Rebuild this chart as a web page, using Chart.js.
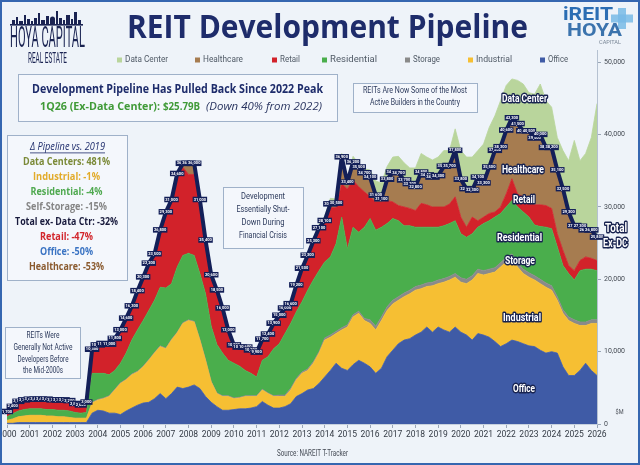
<!DOCTYPE html>
<html><head><meta charset="utf-8">
<script src="https://cdn.jsdelivr.net/npm/chart.js@4.4.1/dist/chart.umd.min.js"></script>
<style>html,body{margin:0;padding:0;background:#eef3f9;}canvas{display:block;}</style>
</head><body>
<canvas id="c" width="640" height="465"></canvas>
<script>
// ---------- DATA ($ billions, quarterly 2000 Q1 .. 2026 Q1) ----------
const quarterLabels = [];
for (let y = 2000; y <= 2026; y++) for (let q = 1; q <= 4; q++) { if (y === 2026 && q > 1) break; quarterLabels.push(y + ' Q' + q); }
const yearTicks = [2000,2001,2002,2003,2004,2005,2006,2007,2008,2009,2010,2011,2012,2013,2014,2015,2016,2017,2018,2019,2020,2021,2022,2023,2024,2025,2026];
const valueTicks = [0,10,20,30,40,50];

const office = [
 0.1,0.1,0.2,0.2, 0.2,0.2,0.2,0.2, 0.2,0.2,0.2,0.2, 0.2,0.2,0.2,1.5,
 1.9,1.8,1.5,1.5, 1.3,1.8,2.2,2.6, 2.9,3.0,3.5,4.2, 3.5,4.2,5.1,4.9,
 5.1,5.4,4.9,3.8, 3.0,2.4,1.9,1.9, 2.0,2.1,2.1,2.2, 2.4,3.1,2.6,2.2,
 2.2,2.4,2.8,3.8, 4.2,4.7,4.9,5.6, 6.5,7.4,8.4,7.7, 7.4,8.2,8.8,8.4,
 7.9,7.0,7.7,9.3, 10.2,11.1,11.6,11.8, 12.3,12.7,13.4,12.7, 13.4,13.0,12.7,13.4,
 12.7,12.3,11.6,12.5, 12.3,12.0,11.4,10.7, 11.1,11.6,11.4,11.1, 10.8,10.7,10.2,9.8,
 10.0,9.8,7.9,6.7, 6.7,7.4,8.4,7.4, 6.7];
const industrial = [
 0.4,0.6,0.8,0.9, 1.0,1.0,1.0,0.9, 0.9,0.8,0.8,0.7, 0.6,0.6,0.6,1.4,
 1.4,1.7,2.3,3.2, 4.3,4.3,4.6,4.6, 5.0,5.8,6.3,6.5, 6.9,7.4,7.5,9.0,
 9.2,8.7,6.7,5.0, 2.8,1.8,1.9,1.9, 1.5,1.5,1.7,1.6, 1.4,1.6,1.6,1.6,
 1.6,1.4,1.9,2.3, 2.8,2.7,3.5,4.2, 5.1,4.6,4.1,5.3, 6.0,6.6,6.5,5.9,
 6.0,6.0,6.6,6.4, 6.4,6.0,6.0,6.2, 6.2,6.0,5.6,6.4, 6.0,6.6,7.2,6.9,
 6.9,7.1,8.3,8.3, 8.3,8.8,9.6,11.0, 11.3,11.0,10.3,9.7, 9.5,9.2,9.2,9.1,
 8.5,7.3,7.4,7.6, 7.2,6.2,5.2,6.5, 7.2];
const storage = [
 0,0,0,0, 0,0,0,0, 0,0,0,0, 0,0,0,0.1,
 0.1,0.1,0.1,0.1, 0.1,0.1,0.1,0.1, 0.1,0.1,0.1,0.1, 0.1,0.1,0.1,0.1,
 0.1,0.1,0.1,0.1, 0.1,0.1,0.1,0.1, 0.1,0.1,0.1,0.1, 0.1,0.1,0.1,0.1,
 0.2,0.2,0.2,0.2, 0.2,0.2,0.2,0.2, 0.3,0.3,0.3,0.3, 0.3,0.3,0.3,0.3,
 0.5,0.5,0.5,0.5, 0.5,0.5,0.5,0.5, 0.5,0.5,0.5,0.5, 0.5,0.5,0.5,0.5,
 0.6,0.6,0.6,0.6, 0.6,0.6,0.6,0.6, 0.6,0.9,0.6,0.6, 0.6,0.6,0.6,0.6,
 0.6,0.5,0.5,0.5, 0.5,0.5,0.5,0.5, 0.5];
const residential = [
 0.5,0.7,0.8,0.9, 0.9,0.9,0.9,0.9, 0.9,0.9,0.9,0.9, 0.8,0.7,0.8,4.0,
 3.6,3.4,2.9,2.6, 2.7,3.6,4.7,5.7, 6.3,6.8,7.2,8.1, 8.3,7.7,9.0,9.3,
 9.2,9.1,9.1,9.1, 7.6,6.7,5.9,4.9, 4.8,4.3,3.5,3.1, 2.6,4.0,5.0,6.5,
 7.1,8.5,9.0,9.2, 9.7,10.9,11.3,11.2, 10.5,10.8,12.1,15.3, 10.5,12.1,10.9,12.6,
 14.0,13.3,12.4,11.5, 11.3,10.5,9.3,8.9, 8.2,8.0,7.7,7.6, 7.3,7.3,7.3,7.3,
 6.1,5.8,5.8,5.8, 6.5,6.7,7.0,6.8, 7.0,7.4,7.7,7.9, 7.7,7.0,7.3,7.7,
 7.9,6.9,6.1,6.0, 5.5,7.1,7.3,7.0, 6.8];
const retail = [
 0.6,0.8,1.1,1.1, 1.1,1.1,1.1,1.2, 1.1,1.2,1.2,1.2, 1.0,0.9,1.2,3.1,
 3.7,3.9,4.0,4.2, 4.4,4.6,4.5,5.2, 5.8,6.3,6.2,7.7, 10.3,11.4,12.7,12.2,
 10.9,11.2,9.8,7.2, 6.9,7.3,6.0,4.0, 2.3,2.4,3.0,3.0, 3.2,2.7,2.9,3.3,
 3.7,3.3,2.5,3.5, 4.4,4.6,5.2,5.7, 5.3,6.8,5.0,4.6, 8.3,6.5,6.3,4.9,
 3.0,3.9,3.5,3.2, 2.3,2.1,2.6,2.4, 2.3,3.3,3.1,2.8, 2.8,2.6,2.7,3.3,
 2.3,1.4,2.3,0.9, 0.9,1.0,0.7,0.9, 1.8,3.0,1.8,2.1, 2.3,2.8,3.0,3.0,
 2.8,1.8,2.1,1.1, 1.3,1.4,1.7,1.5, 1.4];
const healthcare = [
 0.1,0.2,0.2,0.2, 0.2,0.2,0.2,0.2, 0.2,0.2,0.2,0.2, 0.2,0.2,0.2,0.2,
 0.2,0.2,0.2,0.2, 0.2,0.2,0.2,0.2, 0.2,0.2,0.2,0.2, 0.2,0.2,0.2,0.5,
 1.5,1.5,0.4,0.2, 0.2,0.2,0.2,0.2, 0.2,0.2,0.2,0.2, 0.2,0.2,0.2,0.2,
 0.2,0.2,0.2,0.2, 0.2,0.2,0.2,0.2, 0.4,0.5,0.6,3.7, 0.9,2.5,2.7,2.6,
 2.7,0.9,0.4,2.9, 4.1,4.5,3.7,3.4, 3.3,4.3,4.1,4.1, 4.3,5.6,5.3,6.4,
 5.2,5.3,3.7,6.0, 4.7,6.4,8.5,8.3, 8.8,8.4,9.7,9.1, 9.6,9.2,9.7,8.0,
 8.4,8.8,8.5,7.4, 6.2,4.7,3.7,3.9, 3.2];
const dataCenter = [
 0,0,0,0, 0,0,0,0, 0,0,0,0, 0,0,0,0,
 0,0,0,0, 0,0,0,0, 0,0,0,0, 0,0,0,0,
 0.3,0.3,0,0, 0,0,0,0, 0,0,0,0, 0,0,0,0,
 0,0,0,0, 0.1,0.2,0.4,0.5, 0.6,0.8,0.6,0.5, 0.6,0.8,0.5,0.6,
 1.0,2.0,2.2,1.8, 2.1,2.3,2.4,2.2, 2.6,2.6,2.5,2.4, 2.6,2.2,2.1,3.0,
 4.0,4.4,4.6,3.7, 5.4,5.5,4.8,6.4, 6.2,5.4,6.0,6.5, 5.3,6.1,7.0,6.5,
 5.6,4.5,5.3,7.1, 11.8,9.1,10.6,12.8, 18.5];
const totalExDC = [
 1.7,2.4,3.1,3.3, 3.4,3.4,3.4,3.4, 3.3,3.3,3.3,3.2, 2.8,2.6,3.0,10.3,
 10.9,11.1,11.0,11.8, 13.0,14.6,16.3,18.4, 20.3,22.2,23.5,26.8, 29.3,31.0,34.6,36.0,
 36.0,36.0,31.0,25.4, 20.6,18.5,16.0,13.0, 10.9,10.6,10.6,10.2, 9.9,11.7,12.4,13.9,
 15.0,16.0,16.6,19.2, 21.5,23.3,25.3,27.1, 28.1,30.4,30.5,36.9, 33.4,36.2,35.5,34.7,
 34.1,31.6,31.1,33.8, 34.8,34.7,33.7,33.2, 32.8,34.8,34.4,34.1, 34.3,35.6,35.7,37.8,
 33.8,32.5,32.3,34.1, 33.3,35.5,37.8,38.3, 40.6,42.3,41.5,40.5, 40.5,39.5,40.0,38.2,
 38.2,35.1,32.5,29.3, 27.4,27.3,26.8,26.8, 25.8];

const layerNames  = ['Office','Industrial','Storage','Residential','Retail','Healthcare','Data Center'];
const layerValues = [office, industrial, storage, residential, retail, healthcare, dataCenter];
const layerColors = ['#3f5ba6','#f6bf33','#8a8a8a','#4aae4c','#d2222a','#a67c50','#b9d59c'];

// ---------- build ----------
const quarterX = quarterLabels.map(s => { const p = s.split(' Q'); return +p[0] + (+p[1] - 1) / 4; });
const pts = arr => arr.map((v, i) => ({ x: quarterX[i], y: v }));

const datasets = [{
  label: 'Total Ex-DC', data: pts(totalExDC), borderColor: '#131f58', borderWidth: 4,
  borderJoinStyle: 'round', fill: false, pointRadius: 0, tension: 0, stack: 'total'
}];
layerNames.forEach((n, k) => datasets.push({
  label: n, data: pts(layerValues[k]), backgroundColor: layerColors[k], borderColor: layerColors[k],
  borderWidth: 0.8, fill: k === 0 ? 'origin' : '-1', pointRadius: 0, tension: 0, stack: 'layers'
}));

const FONT = "Roboto, 'Open Sans', sans-serif";
function fitText(ctx, text, cx, cy, w, align) {
  const nat = ctx.measureText(text).width || 1;
  ctx.save(); ctx.translate(cx, cy); ctx.scale(w / nat, 1);
  ctx.textAlign = align || 'center'; ctx.textBaseline = 'middle';
  ctx.fillText(text, 0, 0); ctx.restore();
}
function outlineText(ctx, text, cx, cy, w) {
  const nat = ctx.measureText(text).width || 1;
  ctx.save(); ctx.translate(cx, cy); ctx.scale(w / nat, 1);
  ctx.textAlign = 'center'; ctx.textBaseline = 'middle';
  ctx.lineJoin = 'round'; ctx.lineWidth = 3; ctx.strokeStyle = '#17224f';
  ctx.strokeText(text, 0, 0); ctx.fillStyle = '#ffffff'; ctx.fillText(text, 0, 0); ctx.restore();
}
function box(ctx, x, y, w, h) {
  ctx.save(); ctx.fillStyle = 'rgba(243,247,252,0.95)'; ctx.fillRect(x, y, w, h);
  ctx.strokeStyle = '#9fb1c9'; ctx.lineWidth = 1; ctx.strokeRect(x + 0.5, y + 0.5, w, h); ctx.restore();
}

const deco = {
  id: 'deco',
  beforeDraw(chart) {
    const ctx = chart.ctx; ctx.save();
    ctx.fillStyle = '#eef3f9'; ctx.fillRect(0, 0, chart.width, chart.height);
    ctx.restore();
  },
  afterDatasetsDraw(chart) {
    const ctx = chart.ctx, meta = chart.getDatasetMeta(0);
    ctx.save(); ctx.font = 'bold 4px ' + FONT; ctx.textAlign = 'center'; ctx.textBaseline = 'middle';
    meta.data.forEach((p, i) => {
      const t = Math.round(totalExDC[i] * 1000).toLocaleString('en-US');
      const w = ctx.measureText(t).width + 2;
      ctx.fillStyle = '#131f58'; ctx.fillRect(p.x - w / 2, p.y - 3, w, 5.5);
      ctx.fillStyle = '#ffffff'; ctx.fillText(t, p.x, p.y - 0.2);
    });
    ctx.restore();
  },
  afterDraw(chart) {
    const ctx = chart.ctx; ctx.save();
    // frame
    ctx.strokeStyle = '#3566b0'; ctx.lineWidth = 2; ctx.strokeRect(1, 1, 638, 463);
    // title
    ctx.fillStyle = '#1e2c6b'; ctx.font = "bold 32px 'Open Sans', " + FONT;
    fitText(ctx, 'REIT Development Pipeline', 127, 29, 401, 'left');
    // Hoya logo (left)
    ctx.fillStyle = '#1a2352';
    ctx.fillRect(10, 24, 73, 1.6);
    [[12,3,4],[16,2,7],[19,4,3],[24,2,9],[27,3,5],[31,2,3],[34,3,6],[38,2,11],[41,4,4],[46,3,8],[50,5,5],[56,2,13],[59,3,6],[63,2,4],[66,4,9],[71,2,5],[74,3,12],[78,3,4]]
      .forEach(b => ctx.fillRect(b[0], 24 - b[2], b[1], b[2]));
    ctx.beginPath(); ctx.arc(52.5, 19, 2.5, Math.PI, 0); ctx.fill();
    ctx.font = '30px ' + FONT; fitText(ctx, 'HOYA CAPITAL', 47.5, 39, 75);
    ctx.font = '15px ' + FONT; fitText(ctx, 'REAL ESTATE', 47.5, 59, 39);
    // iREIT logo (right)
    ctx.fillStyle = 'rgba(120,186,230,0.85)';
    ctx.fillRect(618, 8, 8, 21); ctx.fillRect(611, 14.5, 22, 8);
    ctx.fillStyle = '#2b6db3'; ctx.font = 'bold 18px ' + FONT; fitText(ctx, 'iREIT', 588, 15, 50);
    ctx.fillStyle = '#3b73ad'; ctx.font = 'bold 19px ' + FONT; fitText(ctx, 'HOYA', 594.5, 31, 55);
    ctx.fillStyle = '#7a8797'; ctx.font = '5px ' + FONT; fitText(ctx, 'CAPITAL', 610, 42.5, 22);
    // legend
    const leg = [['Data Center',117,43],['Healthcare',195,40],['Retail',272,20],['Residential',322,47],['Storage',405,27],['Industrial',468,36],['Office',540,20]];
    ctx.font = '9px ' + FONT;
    leg.forEach(l => {
      const ds = chart.data.datasets.find(d => d.label === l[0]);
      ctx.fillStyle = ds.backgroundColor; ctx.fillRect(l[1], 57.5, 5, 5);
      ctx.fillStyle = '#505a66'; fitText(ctx, l[0], l[1] + 8, 60, l[2], 'left');
    });
    // top box
    box(ctx, 18, 74, 319, 47);
    ctx.fillStyle = '#1e2c6b'; ctx.font = "bold 12px 'Open Sans', " + FONT;
    fitText(ctx, 'Development Pipeline Has Pulled Back Since 2022 Peak', 32, 90, 291, 'left');
    ctx.fillStyle = '#3f9a37'; ctx.font = "bold 11px 'Open Sans', " + FONT;
    fitText(ctx, '1Q26 (Ex-Data Center):', 40, 107, 120, 'left');
    fitText(ctx, '$25.79B', 163, 107, 37, 'left');
    ctx.fillStyle = '#2a3560'; ctx.font = "italic 11px 'Open Sans', " + FONT;
    fitText(ctx, '(Down 40% from 2022)', 206, 107, 116, 'left');
    // REITs are now box
    box(ctx, 353, 83, 124, 29);
    ctx.fillStyle = '#2c3a5c'; ctx.font = '9px ' + FONT;
    fitText(ctx, 'REITs Are Now Some of the Most', 415, 91, 104);
    fitText(ctx, 'Active Builders in the Country', 415, 103, 90);
    // delta box
    box(ctx, 7, 135, 120, 145);
    ctx.fillStyle = '#1e2c6b'; ctx.font = "italic 11px 'Open Sans', " + FONT;
    fitText(ctx, '\u0394 Pipeline vs. 2019', 67.5, 147, 75);
    ctx.fillRect(30, 152.5, 75, 0.8);
    const dl = [['Data Centers: 481%','#7b8a38',162,87],['Industrial: -1%','#e2ab2a',177,67],['Residential: -4%','#4fa94f',191.5,72],
      ['Self-Storage: -15%','#858585',207,81],['Total ex- Data Ctr: -32%','#181a3c',222,103],['Retail: -47%','#d2262c',237,53],
      ['Office: -50%','#3b74c3',252,53],['Healthcare: -53%','#8a5a2e',267,75]];
    ctx.font = "bold 11px 'Open Sans', " + FONT;
    dl.forEach(d => { ctx.fillStyle = d[1]; fitText(ctx, d[0], 66.5, d[2], d[3]); });
    // early box
    box(ctx, 5, 327, 75, 51);
    ctx.fillStyle = '#2c3a5c'; ctx.font = '9px ' + FONT;
    fitText(ctx, 'REITs Were', 43, 336, 33);
    fitText(ctx, 'Generally Not Active', 43, 348, 59);
    fitText(ctx, 'Developers Before', 43, 360, 51);
    fitText(ctx, 'the Mid-2000s', 43, 371, 40);
    // crisis box
    box(ctx, 223, 187, 80, 61);
    ctx.font = '9.5px ' + FONT;
    fitText(ctx, 'Development', 263, 197, 44);
    fitText(ctx, 'Essentially Shut-', 263, 210, 53);
    fitText(ctx, 'Down During', 263, 223, 43);
    fitText(ctx, 'Financial Crisis', 263, 236, 48);
    // layer labels
    ctx.font = 'bold 10px ' + FONT;
    [['Data Center',524.5,99,45],['Healthcare',523,170,42],['Retail',524,200,22],['Residential',519.5,238,45],
     ['Storage',520,261,30],['Industrial',522,318,38],['Office',524,389,22]].forEach(l => outlineText(ctx, l[0], l[1], l[2], l[3]));
    ctx.font = 'bold 12px ' + FONT;
    outlineText(ctx, 'Total', 616, 229, 22);
    outlineText(ctx, 'Ex-DC', 615.5, 244, 25);
    // axis unit + source
    ctx.fillStyle = '#4a4f58'; ctx.font = '7px ' + FONT;
    fitText(ctx, '$M', 619.5, 412, 8);
    ctx.font = '8.5px ' + FONT; ctx.fillStyle = '#454b55';
    fitText(ctx, 'Source: NAREIT T-Tracker', 312.5, 454, 71);
    ctx.restore();
  }
};

new Chart(document.getElementById('c'), {
  type: 'line',
  data: { datasets },
  options: {
    responsive: false, animation: false, devicePixelRatio: 1,
    layout: { padding: { left: 7, right: 3, top: 50, bottom: 25 } },
    plugins: { legend: { display: false }, tooltip: { enabled: false } },
    elements: { line: { tension: 0 } },
    scales: {
      x: {
        type: 'linear', min: 2000, max: 2026,
        afterBuildTicks: s => { s.ticks = yearTicks.map(v => ({ value: v })); },
        afterFit: s => { s.height = 16; s.paddingLeft = 0; s.paddingRight = 0; },
        ticks: { callback: v => String(v), autoSkip: false, maxRotation: 0, padding: 2, color: '#333a44', font: { size: 8.5, family: FONT } },
        grid: { drawOnChartArea: false, tickLength: 4, color: '#9aa6b6' },
        border: { display: true, color: '#c7d1de' }
      },
      y: {
        position: 'right', stacked: true, min: 0, max: 51.7,
        afterBuildTicks: s => { s.ticks = valueTicks.map(v => ({ value: v })); },
        afterFit: s => { s.width = 40; },
        ticks: { callback: v => (v * 1000).toLocaleString('en-US'), padding: 3, color: '#444a53', font: { size: 7, family: FONT } },
        grid: { drawOnChartArea: false, tickLength: 4, color: '#9aa6b6' },
        border: { display: true, color: '#b5c1d1' }
      }
    }
  },
  plugins: [deco]
});
</script>
</body></html>
